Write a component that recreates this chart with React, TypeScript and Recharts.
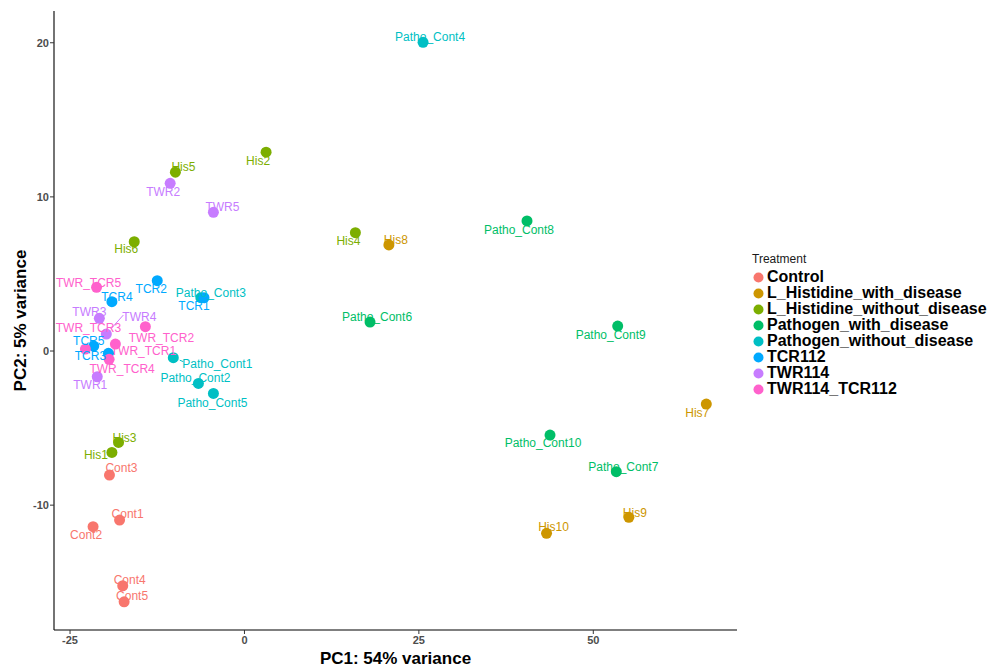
import React from "react";
import { ScatterChart, Scatter, XAxis, YAxis, Legend } from "recharts";

type Sample = { name: string; pc1: number; pc2: number };

// PCA scores
const CONTROL: Sample[] = [
  { name: "Cont1", pc1: -17.9, pc2: -10.97 },
  { name: "Cont2", pc1: -21.7, pc2: -11.4 },
  { name: "Cont3", pc1: -19.35, pc2: -8.05 },
  { name: "Cont4", pc1: -17.45, pc2: -15.23 },
  { name: "Cont5", pc1: -17.25, pc2: -16.27 },
];

const HIS_WITH_DISEASE: Sample[] = [
  { name: "His7", pc1: 66.2, pc2: -3.44 },
  { name: "His8", pc1: 20.7, pc2: 6.88 },
  { name: "His9", pc1: 55.1, pc2: -10.79 },
  { name: "His10", pc1: 43.3, pc2: -11.83 },
];

const HIS_WITHOUT_DISEASE: Sample[] = [
  { name: "His1", pc1: -19.0, pc2: -6.58 },
  { name: "His2", pc1: 3.1, pc2: 12.9 },
  { name: "His3", pc1: -18.05, pc2: -5.93 },
  { name: "His4", pc1: 15.9, pc2: 7.68 },
  { name: "His5", pc1: -9.9, pc2: 11.6 },
  { name: "His6", pc1: -15.8, pc2: 7.09 },
];

const PATHO_WITH_DISEASE: Sample[] = [
  { name: "Patho_Cont6", pc1: 18.0, pc2: 1.88 },
  { name: "Patho_Cont7", pc1: 53.3, pc2: -7.83 },
  { name: "Patho_Cont8", pc1: 40.5, pc2: 8.44 },
  { name: "Patho_Cont9", pc1: 53.5, pc2: 1.62 },
  { name: "Patho_Cont10", pc1: 43.8, pc2: -5.45 },
];

const PATHO_WITHOUT_DISEASE: Sample[] = [
  { name: "Patho_Cont1", pc1: -10.2, pc2: -0.43 },
  { name: "Patho_Cont2", pc1: -6.6, pc2: -2.1 },
  { name: "Patho_Cont3", pc1: -6.25, pc2: 3.46 },
  { name: "Patho_Cont4", pc1: 25.6, pc2: 20.03 },
  { name: "Patho_Cont5", pc1: -4.45, pc2: -2.75 },
];

const TCR112: Sample[] = [
  { name: "TCR1", pc1: -5.8, pc2: 3.46 },
  { name: "TCR2", pc1: -12.5, pc2: 4.56 },
  { name: "TCR3", pc1: -19.5, pc2: -0.15 },
  { name: "TCR4", pc1: -19.0, pc2: 3.2 },
  { name: "TCR5", pc1: -21.6, pc2: 0.32 },
];

const TWR114: Sample[] = [
  { name: "TWR1", pc1: -21.1, pc2: -1.67 },
  { name: "TWR2", pc1: -10.65, pc2: 10.88 },
  { name: "TWR3", pc1: -20.8, pc2: 2.12 },
  { name: "TWR4", pc1: -19.8, pc2: 1.1 },
  { name: "TWR5", pc1: -4.45, pc2: 9.0 },
];

const TWR114_TCR112: Sample[] = [
  { name: "TWR_TCR1", pc1: -18.5, pc2: 0.45 },
  { name: "TWR_TCR2", pc1: -14.2, pc2: 1.58 },
  { name: "TWR_TCR3", pc1: -22.8, pc2: 0.13 },
  { name: "TWR_TCR4", pc1: -19.4, pc2: -0.54 },
  { name: "TWR_TCR5", pc1: -21.2, pc2: 4.13 },
];

const TREATMENTS = [
  "Control",
  "L_Histidine_with_disease",
  "L_Histidine_without_disease",
  "Pathogen_with_disease",
  "Pathogen_without_disease",
  "TCR112",
  "TWR114",
  "TWR114_TCR112",
];
const SERIES = [
  CONTROL,
  HIS_WITH_DISEASE,
  HIS_WITHOUT_DISEASE,
  PATHO_WITH_DISEASE,
  PATHO_WITHOUT_DISEASE,
  TCR112,
  TWR114,
  TWR114_TCR112,
];

const X_TICKS = [-25, 0, 25, 50];
const Y_TICKS = [-10, 0, 10, 20];

// ggplot default hue palette for 8 groups
const COLORS = ["#F8766D", "#CD9600", "#7CAE00", "#00BE67", "#00BFC4", "#00A9FF", "#C77CFF", "#FF61CC"];

const FONT = '"Liberation Sans", Arial, sans-serif';

// where the repelled text sits relative to its point (px)
const LABEL_OFFSET: Record<string, [number, number]> = {
  Cont1: [8, -6], Cont2: [-7, 8], Cont3: [12, -7], Cont4: [7, -6], Cont5: [8, -6],
  His1: [-16, 3], His2: [-8, 9], His3: [6, -4], His4: [-7, 8], His5: [8, -5],
  His6: [-8, 7], His7: [-9, 9], His8: [7, -5], His9: [6, -4], His10: [7, -6],
  Patho_Cont1: [44, 6], Patho_Cont2: [-3, -5], Patho_Cont3: [10, -5], Patho_Cont4: [7, -5],
  Patho_Cont5: [-1, 10], Patho_Cont6: [7, -5], Patho_Cont7: [7, -5], Patho_Cont8: [-8, 9],
  Patho_Cont9: [-7, 9], Patho_Cont10: [-7, 8],
  TCR1: [-10, 8], TCR2: [-6, 8], TCR3: [-18, 3], TCR4: [5, -5], TCR5: [-5, -5],
  TWR1: [-7, 8], TWR2: [-7, 9], TWR3: [-10, -6], TWR4: [33, -17], TWR5: [9, -5],
  TWR_TCR1: [28, 7], TWR_TCR2: [16, 11], TWR_TCR3: [3, -21], TWR_TCR4: [13, 10], TWR_TCR5: [-8, -4],
};

// leader segments drawn by ggrepel (end point relative to the sample point)
const SEGMENT_END: Record<string, [number, number]> = {
  Patho_Cont1: [10, 4],
  TWR4: [17, -19],
};

const makePointShape = (color: string) => (props: any) => (
  <circle cx={props.cx} cy={props.cy} r={5.5} fill={color} />
);

const makeLabelShape = (color: string) => (props: any) => {
  const { cx, cy, payload } = props;
  const [dx, dy] = LABEL_OFFSET[payload.name] ?? [7, -5];
  const seg = SEGMENT_END[payload.name];
  let line = null;
  if (seg) {
    const len = Math.hypot(seg[0], seg[1]);
    const sx = cx + (seg[0] / len) * 7;
    const sy = cy + (seg[1] / len) * 7;
    line = <line x1={sx} y1={sy} x2={cx + seg[0]} y2={cy + seg[1]} stroke={color} strokeWidth={1} />;
  }
  return (
    <g>
      {line}
      <text
        x={cx + dx}
        y={cy + dy}
        textAnchor="middle"
        dominantBaseline="central"
        fontSize={12}
        fontFamily={FONT}
        fill={color}
      >
        {payload.name}
      </text>
    </g>
  );
};

const renderLegend = (props: any) => {
  const items = (props.payload || []).filter((p: any) => p.type !== "none");
  return (
    <div style={{ fontFamily: FONT, textAlign: "left" }}>
      <div style={{ fontSize: 12, color: "#1a1a1a", height: 18, lineHeight: "16px" }}>Treatment</div>
      {items.map((entry: any) => (
        <div key={entry.value} style={{ display: "flex", alignItems: "center", height: 16 }}>
          <svg width={13} height={13} style={{ flex: "none" }}>
            <circle cx={6.5} cy={6.5} r={5} fill={entry.color} />
          </svg>
          <span style={{ marginLeft: 2, fontSize: 16, fontWeight: 700, color: "#000", whiteSpace: "nowrap" }}>
            {entry.value}
          </span>
        </div>
      ))}
    </div>
  );
};

export default function App() {
  return (
    <div style={{ position: "absolute", left: 0, top: 0, width: 994, height: 667, background: "#fff" }}>
      <ScatterChart width={994} height={667} margin={{ top: 11, right: 257, bottom: 0, left: 0 }}>
        <XAxis
          type="number"
          dataKey="pc1"
          domain={[-27.3, 70.6]}
          ticks={X_TICKS}
          height={37}
          tickSize={4}
          tickMargin={2}
          axisLine={{ stroke: "#000", strokeWidth: 1.1 }}
          tickLine={{ stroke: "#333" }}
          tick={{ fontSize: 11, fontWeight: 700, fill: "#4d4d4d", fontFamily: FONT }}
          label={(p: any) => {
            const vb = p.viewBox;
            return (
              <text
                x={vb.x + vb.width / 2}
                y={658}
                textAnchor="middle"
                dominantBaseline="central"
                fontSize={17}
                fontWeight={700}
                fontFamily={FONT}
                fill="#000"
              >
                PC1: 54% variance
              </text>
            );
          }}
        />
        <YAxis
          type="number"
          dataKey="pc2"
          domain={[-18.1, 22.06]}
          ticks={Y_TICKS}
          width={54}
          tickSize={4}
          tickMargin={1}
          axisLine={{ stroke: "#000", strokeWidth: 1.1 }}
          tickLine={{ stroke: "#333" }}
          tick={{ fontSize: 11, fontWeight: 700, fill: "#4d4d4d", fontFamily: FONT }}
          label={(p: any) => {
            const vb = p.viewBox;
            const cy = vb.y + vb.height / 2;
            return (
              <text
                x={20}
                y={cy}
                transform={`rotate(-90 20 ${cy})`}
                textAnchor="middle"
                dominantBaseline="central"
                fontSize={17}
                fontWeight={700}
                fontFamily={FONT}
                fill="#000"
              >
                PC2: 5% variance
              </text>
            );
          }}
        />
        <Legend
          layout="horizontal"
          verticalAlign="middle"
          align="center"
          content={renderLegend}
          wrapperStyle={{ left: 752, top: 251, width: 242 }}
        />
        {SERIES.map((data, i) => (
          <Scatter
            key={TREATMENTS[i]}
            name={TREATMENTS[i]}
            data={data}
            fill={COLORS[i]}
            shape={makePointShape(COLORS[i])}
            isAnimationActive={false}
          />
        ))}
        {SERIES.map((data, i) => (
          <Scatter
            key={TREATMENTS[i] + "-labels"}
            name={TREATMENTS[i] + " labels"}
            data={data}
            fill="none"
            legendType="none"
            shape={makeLabelShape(COLORS[i])}
            isAnimationActive={false}
          />
        ))}
      </ScatterChart>
    </div>
  );
}
